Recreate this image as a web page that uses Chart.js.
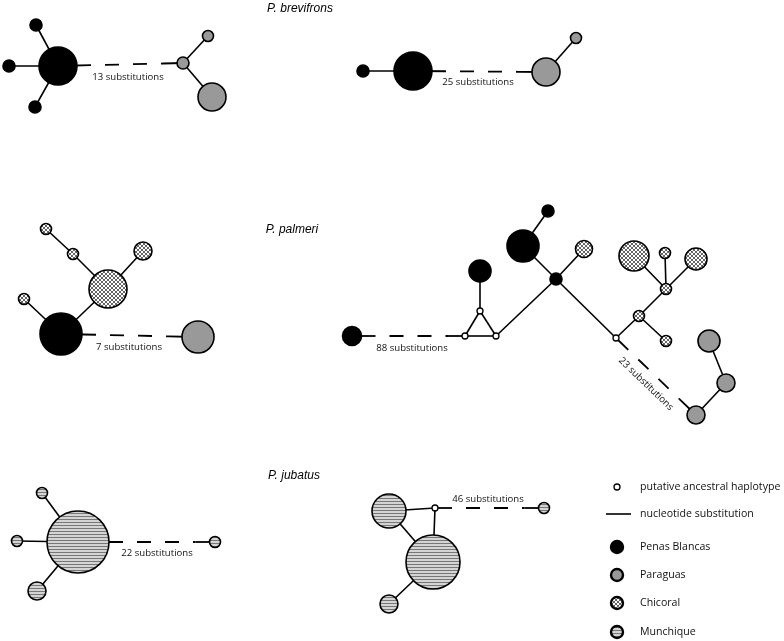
<!DOCTYPE html>
<html>
<head>
<meta charset="utf-8">
<script src="https://cdn.jsdelivr.net/npm/chart.js@4.4.1/dist/chart.umd.min.js"></script>
<style>
  html, body { margin: 0; padding: 0; background: #fff; }
  #wrap { width: 784px; height: 641px; position: relative; }
</style>
</head>
<body>
<div id="wrap"><canvas id="net"></canvas></div>
<script>
// populations: PB = Penas Blancas, PA = Paraguas, CH = Chicoral, MU = Munchique, AN = ancestral
// nodes: [id, x, y, radius, population]
const brevifronsNodes = [
  ["a1", 58, 66, 19, "PB"], ["a2", 36, 25, 6, "PB"], ["a3", 9, 66, 6, "PB"], ["a4", 35, 107, 6, "PB"],
  ["a5", 183, 63, 6, "PA"], ["a6", 208, 36, 5.5, "PA"], ["a7", 212, 97, 14, "PA"],
  ["b1", 363, 71, 6, "PB"], ["b2", 413, 71, 19, "PB"], ["b3", 546, 72, 14, "PA"], ["b4", 576, 38, 5.5, "PA"]
];
const palmeriNodes = [
  ["c1", 46, 229, 5.5, "CH"], ["c2", 73, 254, 5.5, "CH"], ["c3", 143, 251, 9, "CH"], ["c4", 108, 289, 19, "CH"],
  ["c5", 24, 299, 5.5, "CH"], ["c6", 61, 334, 21, "PB"], ["c7", 198, 337, 16, "PA"],
  ["d1", 352, 336, 9.5, "PB"], ["d2", 465, 336, 3, "AN"], ["d3", 496, 336, 3, "AN"], ["d4", 480, 311, 3, "AN"],
  ["d5", 480, 271, 11, "PB"], ["d6", 523, 246, 16, "PB"], ["d7", 548, 211, 6, "PB"], ["d8", 556, 279, 6, "PB"],
  ["d9", 584, 249, 8.5, "CH"], ["d10", 616, 338, 3, "AN"], ["d11", 639, 316, 5.5, "CH"], ["d12", 666, 341, 5.5, "CH"],
  ["d13", 666, 289, 5.5, "CH"], ["d14", 634, 256, 15, "CH"], ["d15", 665, 253, 5.5, "CH"], ["d16", 696, 259, 11, "CH"],
  ["d17", 696, 415, 9, "PA"], ["d18", 726, 383, 9, "PA"], ["d19", 709, 341, 11, "PA"]
];
const jubatusNodes = [
  ["e1", 78, 542, 31, "MU"], ["e2", 42, 493, 5.5, "MU"], ["e3", 17, 541, 5.5, "MU"], ["e4", 37, 591, 9, "MU"],
  ["e5", 215, 542, 5.5, "MU"],
  ["f1", 389, 511, 17, "MU"], ["f2", 435, 508, 3, "AN"], ["f3", 433, 562, 27, "MU"], ["f4", 389, 604, 9, "MU"],
  ["f5", 544, 508, 5.5, "MU"]
];
const legendNodes = [
  ["g1", 617, 487, 3, "AN"], ["g2", 617, 547, 6, "PB"], ["g3", 617, 575, 6, "PA"],
  ["g4", 617, 603, 6, "CH"], ["g5", 617, 632, 6, "MU"]
];

// one substitution edges
const solidEdges = [
  ["a1", "a2"], ["a1", "a3"], ["a1", "a4"], ["a5", "a6"], ["a5", "a7"],
  ["b1", "b2"], ["b3", "b4"],
  ["c1", "c2"], ["c2", "c4"], ["c3", "c4"], ["c4", "c6"], ["c5", "c6"],
  ["d2", "d3"], ["d2", "d4"], ["d3", "d4"], ["d4", "d5"], ["d3", "d8"], ["d8", "d6"], ["d6", "d7"],
  ["d8", "d9"], ["d8", "d10"], ["d10", "d11"], ["d11", "d12"], ["d11", "d13"], ["d13", "d14"],
  ["d13", "d15"], ["d13", "d16"], ["d17", "d18"], ["d18", "d19"],
  ["e1", "e2"], ["e1", "e3"], ["e1", "e4"],
  ["f1", "f2"], ["f2", "f3"], ["f1", "f3"], ["f3", "f4"]
];
// many substitution edges: [from, to, label, label x, label y, label angle]
const dashedEdges = [
  ["a1", "a5", "13 substitutions", 128, 77, 0],
  ["b2", "b3", "25 substitutions", 478, 82, 0],
  ["c6", "c7", "7 substitutions", 129, 347, 0],
  ["d1", "d2", "88 substitutions", 412, 348, 0],
  ["d10", "d17", "23 substitutions", 646, 384, 44],
  ["e1", "e5", "22 substitutions", 157, 553, 0],
  ["f2", "f5", "46 substitutions", 488, 499, 0]
];

const titles = [["P. brevifrons", 300, 9], ["P. palmeri", 292, 230], ["P. jubatus", 294, 476]];
const legendLabels = [
  ["putative ancestral haplotype", 640, 487], ["nucleotide substitution", 640, 514],
  ["Penas Blancas", 640, 547], ["Paraguas", 640, 575], ["Chicoral", 640, 603], ["Munchique", 640, 632]
];
const legendLine = [[606, 514], [631, 514]];

const legendIds = legendNodes.map((n) => n[0]);
const allNodes = brevifronsNodes.concat(palmeriNodes, jubatusNodes, legendNodes);
const byId = {};
allNodes.forEach((n) => { byId[n[0]] = n; });

function makePattern(kind) {
  const c = document.createElement("canvas");
  const g = c.getContext("2d");
  if (kind == "CH") {
    c.width = 4; c.height = 4;
    g.fillStyle = "#fff"; g.fillRect(0, 0, 4, 4);
    g.strokeStyle = "#222"; g.lineWidth = 0.7;
    g.beginPath();
    g.moveTo(-1, -1); g.lineTo(5, 5);
    g.moveTo(5, -1); g.lineTo(-1, 5);
    g.stroke();
  } else {
    c.width = 4; c.height = 3;
    g.fillStyle = "#d4d4d4"; g.fillRect(0, 0, 4, 3);
    g.fillStyle = "#777"; g.fillRect(0, 0, 4, 1);
  }
  return g.createPattern(c, "repeat");
}

const fills = {
  PB: "#000", PA: "#999", AN: "#fff",
  CH: makePattern("CH"), MU: makePattern("MU")
};

const datasets = [];

// nodes, one dataset per population
["PB", "PA", "CH", "MU", "AN"].forEach((pop) => {
  const pts = allNodes.filter((n) => n[4] == pop)
    .map((n) => ({ x: n[1], y: n[2], r: n[3], leg: legendIds.includes(n[0]) }));
  datasets.push({
    data: pts,
    order: 1,
    clip: false,
    pointRadius: (ctx) => (ctx.raw ? ctx.raw.r : 3),
    pointHoverRadius: (ctx) => (ctx.raw ? ctx.raw.r : 3),
    pointBackgroundColor: fills[pop],
    pointBorderColor: "#000",
    pointBorderWidth: (ctx) => (ctx.raw && ctx.raw.leg && pop != "AN" ? 2.4 : pop == "AN" ? 1.3 : 1.6),
    showLine: false
  });
});

function edgeSet(points, extra) {
  return Object.assign({
    data: points,
    order: 2,
    clip: false,
    showLine: true,
    borderColor: "#000",
    borderWidth: 1.6,
    pointRadius: 0,
    tension: 0
  }, extra || {});
}

solidEdges.forEach((e) => {
  const a = byId[e[0]], b = byId[e[1]];
  datasets.push(edgeSet([{ x: a[1], y: a[2] }, { x: b[1], y: b[2] }]));
});

// dashed edge: short solid stubs at both ends, dashes in between
const stub = 14;
dashedEdges.forEach((e) => {
  const a = byId[e[0]], b = byId[e[1]];
  const dx = b[1] - a[1], dy = b[2] - a[2];
  const len = Math.sqrt(dx * dx + dy * dy);
  const ux = dx / len, uy = dy / len;
  const s1 = a[3] + stub, s2 = b[3] + stub;
  datasets.push(edgeSet([
    { x: a[1], y: a[2] },
    { x: a[1] + ux * s1, y: a[2] + uy * s1 },
    { x: b[1] - ux * s2, y: b[2] - uy * s2 },
    { x: b[1], y: b[2] }
  ], {
    borderWidth: 1.8,
    segment: {
      borderDash: (ctx) => (ctx.p0DataIndex == 1 ? [14, 14] : undefined),
      borderDashOffset: (ctx) => (ctx.p0DataIndex == 1 ? 14 : undefined)
    }
  }));
});

datasets.push(edgeSet(legendLine.map((p) => ({ x: p[0], y: p[1] }))));

const textPlugin = {
  id: "texts",
  afterDatasetsDraw(chart) {
    const ctx = chart.ctx;
    const xs = chart.scales.x, ys = chart.scales.y;
    ctx.save();
    ctx.fillStyle = "#111";
    ctx.textBaseline = "middle";

    ctx.font = "9.6px 'Open Sans'";
    ctx.textAlign = "center";
    dashedEdges.forEach((e) => {
      ctx.save();
      ctx.translate(xs.getPixelForValue(e[3]), ys.getPixelForValue(e[4]));
      ctx.rotate((e[5] * Math.PI) / 180);
      ctx.fillText(e[2], 0, 0);
      ctx.restore();
    });

    ctx.font = "10.6px 'Open Sans'";
    ctx.textAlign = "left";
    legendLabels.forEach((l) => {
      ctx.fillText(l[0], xs.getPixelForValue(l[1]), ys.getPixelForValue(l[2]));
    });

    ctx.font = "italic 12px 'Liberation Sans'";
    ctx.textAlign = "center";
    ctx.fillStyle = "#000";
    titles.forEach((t) => {
      ctx.fillText(t[0], xs.getPixelForValue(t[1]), ys.getPixelForValue(t[2]));
    });
    ctx.restore();
  }
};

new Chart("net", {
  type: "scatter",
  data: { datasets: datasets },
  options: {
    responsive: true,
    maintainAspectRatio: false,
    animation: false,
    events: [],
    layout: { padding: 0, autoPadding: false },
    plugins: { legend: { display: false }, tooltip: { enabled: false } },
    scales: {
      x: { type: "linear", min: 0, max: 784, display: false },
      y: { type: "linear", min: 0, max: 641, reverse: true, display: false }
    }
  },
  plugins: [textPlugin]
});
</script>
</body>
</html>
